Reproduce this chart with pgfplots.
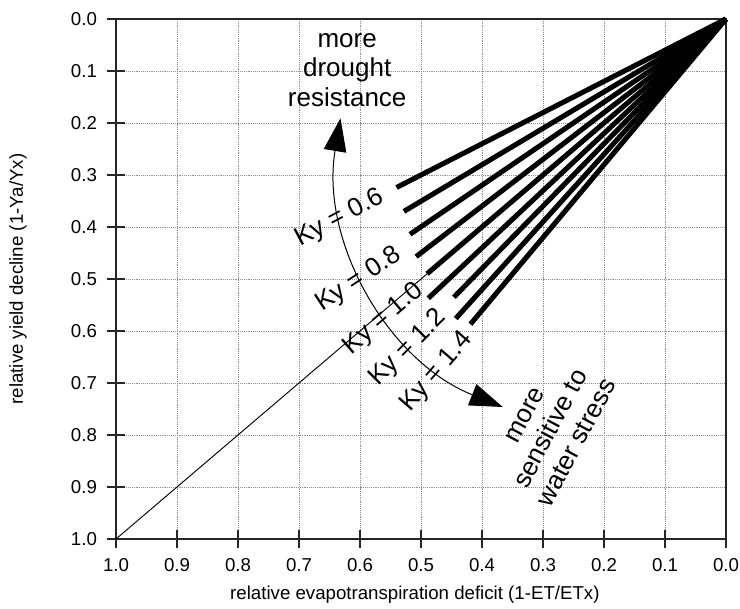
\documentclass[border=0pt]{standalone}
\usepackage{fontspec}
\setmainfont{Liberation Sans}
\usepackage{pgfplots}
\pgfplotsset{compat=1.18}
\usetikzlibrary{arrows.meta}

\begin{document}
\begin{tikzpicture}
\useasboundingbox (-87pt,-52.5pt) rectangle (468pt,404.25pt);
\begin{axis}[
  at={(0,0)}, anchor=south west,
  scale only axis, width=457.5pt, height=390pt,
  xmin=0, xmax=1, ymin=0, ymax=1,
  x dir=reverse, y dir=reverse,
  xtick={0,0.1,0.2,0.3,0.4,0.5,0.6,0.7,0.8,0.9,1},
  ytick={0,0.1,0.2,0.3,0.4,0.5,0.6,0.7,0.8,0.9,1},
  xticklabels={0.0,0.1,0.2,0.3,0.4,0.5,0.6,0.7,0.8,0.9,1.0},
  yticklabels={0.0,0.1,0.2,0.3,0.4,0.5,0.6,0.7,0.8,0.9,1.0},
  grid=major,
  major grid style={densely dotted, black!45, line width=0.7pt},
  tick align=center, major tick length=13.5pt, tick pos=left,
  axis line style={line width=0.9pt, black!85},
  every tick/.style={line width=0.9pt, black!85},
  ticklabel style={font=\fontsize{14}{16}\selectfont},
  xticklabel style={yshift=-4pt},
  yticklabel style={xshift=-4pt},
  xlabel={relative evapotranspiration deficit (1-ET/ETx)},
  ylabel={relative yield decline (1-Ya/Yx)},
  label style={font=\fontsize{14}{16}\selectfont},
  xlabel style={at={(axis description cs:0.49,-0.108)}, anchor=center},
  ylabel style={at={(axis description cs:-0.1607,0.5)}, anchor=center},
  clip=false,
]
% Ky = 1.0 reference line
\addplot[black, line width=0.7pt] coordinates {(0,0) (1,1)};
% Ky = 0.6 ... 1.4
\addplot[black, line width=3.8pt] coordinates {(0,0) (0.540,0.324)};
\addplot[black, line width=3.8pt] coordinates {(0,0) (0.528,0.370)};
\addplot[black, line width=3.8pt] coordinates {(0,0) (0.518,0.414)};
\addplot[black, line width=3.8pt] coordinates {(0,0) (0.508,0.457)};
\addplot[black, line width=3.8pt] coordinates {(0,0) (0.490,0.490)};
\addplot[black, line width=3.8pt] coordinates {(0,0) (0.488,0.537)};
\addplot[black, line width=3.8pt] coordinates {(0,0) (0.446,0.535)};
\addplot[black, line width=3.8pt] coordinates {(0,0) (0.443,0.576)};
\addplot[black, line width=3.8pt] coordinates {(0,0) (0.419,0.587)};

\draw[line width=0.75pt, {Triangle[length=24.75pt,width=17pt]}-{Triangle[length=24.75pt,width=17pt]}]
  (axis cs:0.632,0.191) arc[start angle=170.5, end angle=248.2, radius=198pt];

\begin{scope}[every node/.style={font=\fontsize{19.5}{22}\selectfont, inner sep=0pt}]
\node[rotate=28]   at (axis cs:0.633,0.383) {Ky = 0.6};
\node[rotate=33.5] at (axis cs:0.602,0.502) {Ky = 0.8};
\node[rotate=40.5] at (axis cs:0.561,0.577) {Ky = 1.0};
\node[rotate=45]   at (axis cs:0.521,0.633) {Ky = 1.2};
\node[rotate=49]   at (axis cs:0.474,0.679) {Ky = 1.4};
\node[align=center] at (axis cs:0.621,0.098) {more\\drought\\resistance};
\node[align=center, rotate=62] at (axis cs:0.286,0.789) {more\\sensitive to\\water stress};
\end{scope}
\end{axis}
\end{tikzpicture}
\end{document}
